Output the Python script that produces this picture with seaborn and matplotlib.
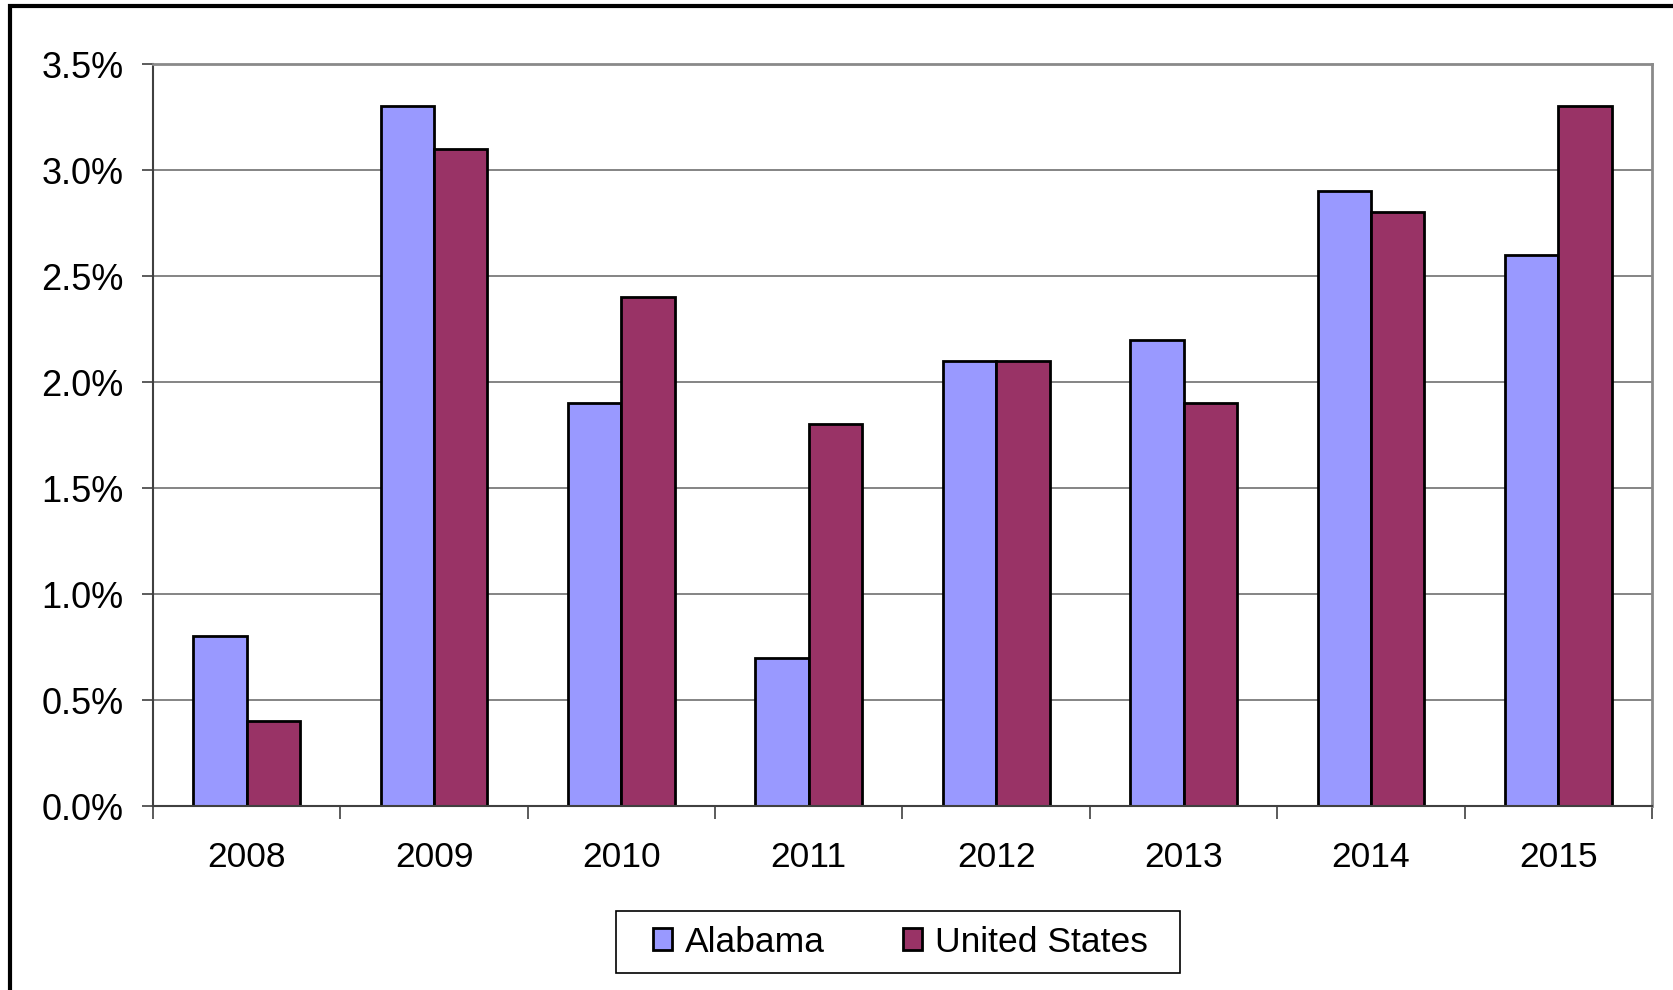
import matplotlib
matplotlib.use("Agg")
import matplotlib.pyplot as plt
from matplotlib.patches import Rectangle
from matplotlib.ticker import FixedLocator, FuncFormatter
import pandas as pd
import seaborn as sns

years = ["2008", "2009", "2010", "2011", "2012", "2013", "2014", "2015"]
alabama = [0.8, 3.3, 1.9, 0.7, 2.1, 2.2, 2.9, 2.6]
united_states = [0.4, 3.1, 2.4, 1.8, 2.1, 1.9, 2.8, 3.3]
series_names = ["Alabama", "United States"]
colors = ["#9999FF", "#993366"]

df = pd.DataFrame({
    "year": years * 2,
    "value": alabama + united_states,
    "series": [series_names[0]] * len(years) + [series_names[1]] * len(years),
})

sns.set_style("white")
plt.rcParams["font.family"] = ["Liberation Sans", "DejaVu Sans"]
plt.rcParams["text.color"] = "black"
plt.rcParams["xtick.color"] = "black"
plt.rcParams["ytick.color"] = "black"

fig = plt.figure(figsize=(16.74, 9.9), dpi=100)
ax = fig.add_axes([153 / 1674, 1 - 806 / 990, (1652 - 153) / 1674, (806 - 64) / 990])

sns.barplot(data=df, x="year", y="value", hue="series", palette=colors,
            width=0.57, edgecolor="black", linewidth=2, saturation=1,
            gap=0, legend=True, ax=ax)

ax.set_xlim(-0.5, len(years) - 0.5)
ax.set_ylim(0, 3.5)
ax.set_yticks([i * 0.5 for i in range(8)])
ax.yaxis.set_major_formatter(FuncFormatter(lambda v, p: f"{v:.1f}%"))
ax.yaxis.grid(True, color="#707070", linewidth=1.2)
ax.set_axisbelow(True)
ax.set_xlabel("")
ax.set_ylabel("")

ax.tick_params(axis="y", which="major", left=True, length=8, width=1.2,
               color="#404040", labelcolor="black", labelsize=26, pad=13,
               direction="out")
ax.tick_params(axis="x", which="major", bottom=False, length=0,
               labelcolor="black", labelsize=25.5, pad=25)
ax.xaxis.set_minor_locator(FixedLocator([i - 0.5 for i in range(len(years) + 1)]))
ax.tick_params(axis="x", which="minor", bottom=True, length=9, width=1.2,
               color="#404040", direction="out")

for side in ["top", "right"]:
    ax.spines[side].set_color("#8a8a8a")
    ax.spines[side].set_linewidth(2)
ax.spines["left"].set_color("#404040")
ax.spines["left"].set_linewidth(1.5)
ax.spines["bottom"].set_color("#404040")
ax.spines["bottom"].set_linewidth(1.5)

handles, labels = ax.get_legend_handles_labels()
ax.get_legend().remove()
fig.legend(handles, labels, loc="center", bbox_to_anchor=(0.538, 1 - 942 / 990),
           ncol=2, fontsize=25.5, frameon=False,
           handlelength=0.54, handleheight=0.54, handletextpad=0.36,
           columnspacing=2.2, borderpad=0, borderaxespad=0)

# legend box, Excel style (wider than the entries)
fig.patches.append(Rectangle((616 / 1674, 1 - 973 / 990), (1180 - 616) / 1674, 62 / 990,
                             transform=fig.transFigure, fill=False,
                             edgecolor="black", linewidth=1.2, zorder=5))

# outer chart frame
fig.patches.append(Rectangle((10 / 1674, -0.1), 1.2, 1 - 6 / 990 + 0.1,
                             transform=fig.transFigure, fill=False,
                             edgecolor="black", linewidth=3, zorder=10))

fig.savefig("out.png", dpi=100)
